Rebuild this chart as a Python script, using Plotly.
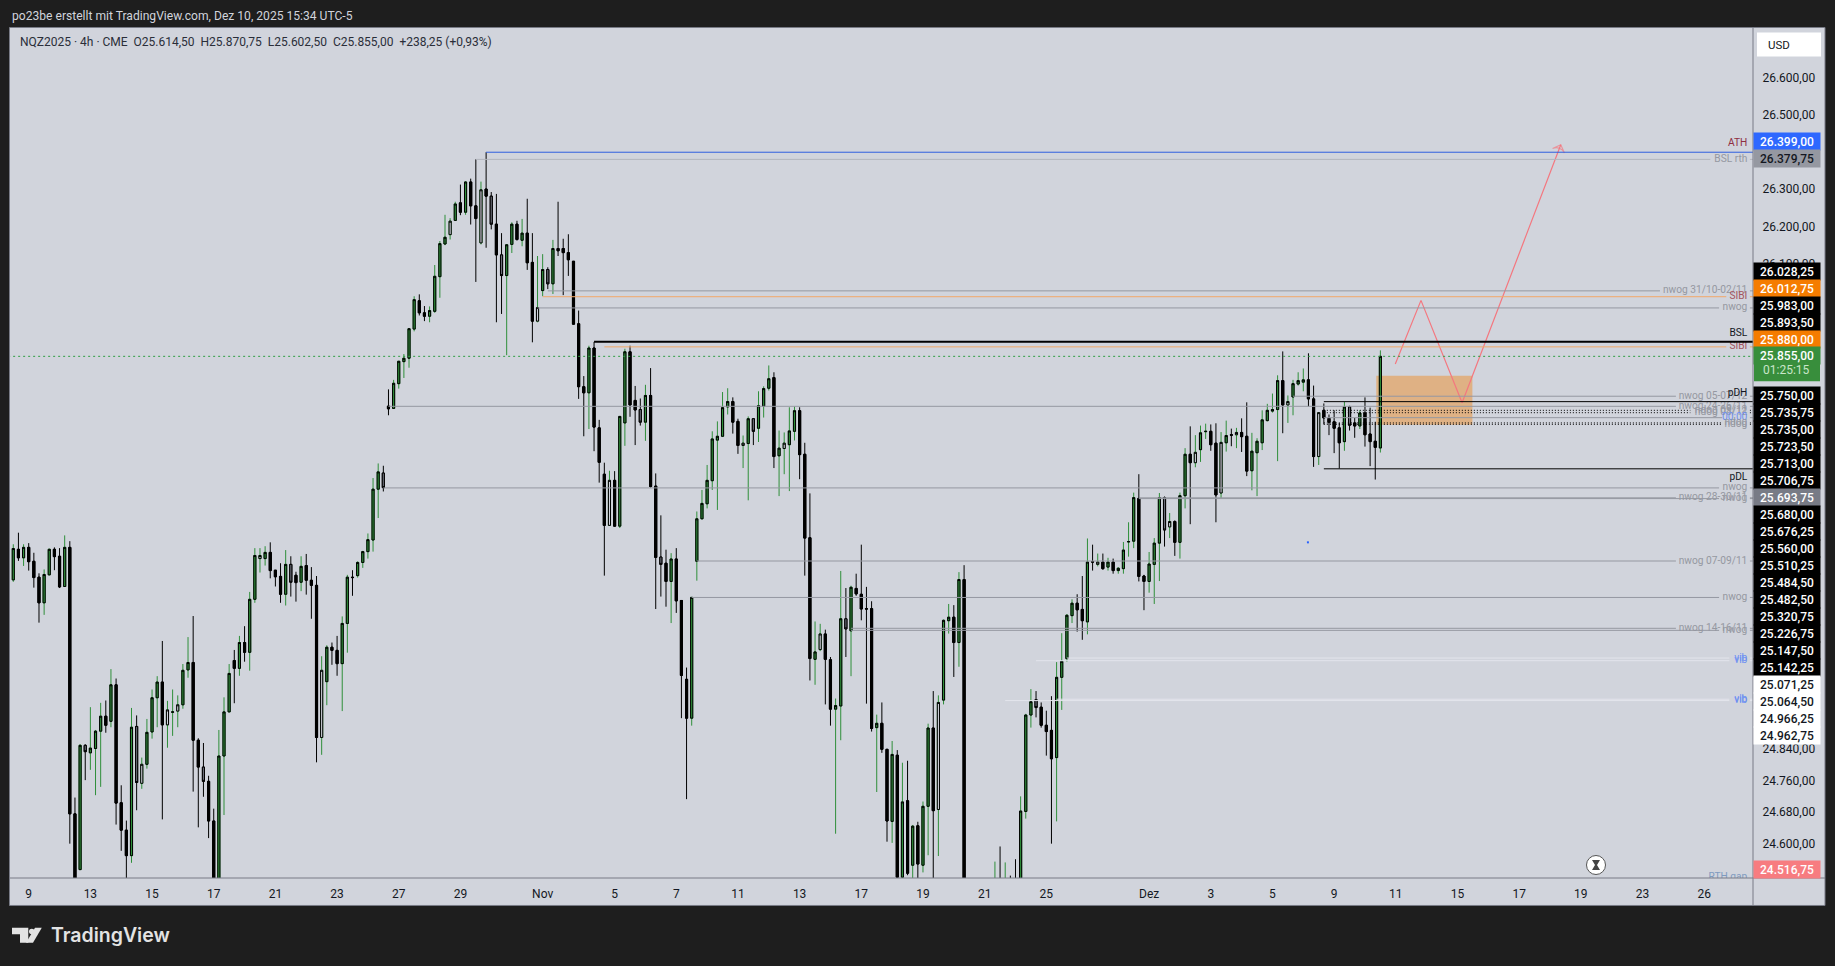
import math
import plotly.graph_objects as go

N = None
opens = [
25272,25351,25329,25356,25320,25279,25213,25285,25351,25333,
25255,25356,24676,24536,24849,24830,24841,24885,24923,24910,
25003,24704,24635,24571,24897,24753,24801,24883,24970,25010,
24901,24933,24936,24952,25041,25060,24862,24794,24758,24658,
24470,24822,24934,25065,25045,25111,25086,25222,25327,25327,
25343,25297,25281,25235,25312,25284,25266,25309,25271,25258,
24869,25011,25099,25091,25057,25160,25279,25283,25317,25345,
25375,25507,25549,25724,25718,25783,25841,25850,25927,26002,
25970,25961,25974,26066,26153,26178,26216,26263,26238,26319,
26255,26156,26300,26281,26206,26124,26069,26152,26206,26163,
26182,26104,25948,26029,26085,26047,26141,26141,26130,26107,
25941,25775,25759,25877,25667,25546,25413,25530,25411,25680,
25867,25739,25715,25682,25752,25515,25331,25315,25268,25326,
25219,25017,24918,25320,25430,25469,25529,25635,25645,25722,
25736,25684,25621,25626,25691,25666,25724,25771,25799,25594,
25613,25623,25658,25712,25598,25381,25068,25093,25133,25067,
24941,24949,25172,25141,25250,25235,25198,25198,24894,24905,
24839,24657,24824,24517,24709,24547,24646,24547,24695,24893,
24687,24964,25167,25176,25111,25273,N,N,N,N,
N,24400,24480,24420,24490,24500,24440,24682,24926,24965,
24946,24900,24887,24818,25022,25070,25180,25212,25196,25164,
25319,25312,25318,25305,25318,25296,25301,25370,25372,25483,
25282,25268,25312,25367,25485,25409,25423,25369,25490,25598,
25576,25610,25657,25658,25627,25497,25628,25649,25649,25655,
25645,25555,25602,25628,25686,25711,25715,25791,25727,25748,
25782,25787,25793,25743,25592,25713,25692,25683,25667,25631,
25722,25680,25672,25706,25651,25632,25614.5]
highs = [
25364,25394,25364,25367,25342,25289,25299,25353,25356,25354,
25387,25372,24717,24852,24852,24946,24888,24957,24963,25043,
25019,24748,24659,24944,24925,24818,24916,24991,25025,25115,
24962,24991,24976,25056,25125,25179,24867,24855,24772,24689,
24888,24971,25056,25092,25128,25153,25241,25354,25354,25359,
25369,25297,25315,25349,25333,25293,25333,25339,25305,25282,
25076,25104,25111,25128,25178,25285,25297,25320,25347,25392,
25536,25574,25568,25768,25793,25842,25861,25928,26014,26019,
25988,25987,26097,26161,26231,26222,26266,26312,26321,26328,
26380,26320,26399,26292,26287,26182,26152,26211,26215,26220,
26274,26182,26121,26126,26091,26164,26266,26167,26179,26107,
25976,25803,25883,25893,25688,25576,25555,25554,25697,25875,
25883,25777,25744,25780,25824,25548,25439,25350,25341,25354,
25220,25047,25227,25449,25505,25570,25658,25684,25761,25771,
25747,25691,25647,25697,25691,25763,25776,25831,25813,25660,
25655,25721,25723,25721,25628,25496,25165,25159,25144,25074,
24968,25295,25251,25257,25288,25363,25254,25217,24927,24958,
24839,24860,24837,24805,24810,24648,24656,24707,24904,24987,
24976,25170,25210,25207,25292,25310,N,N,N,N,
N,24556,24594,24554,24521,24562,24720,24929,24992,24987,
24958,24937,24974,25061,25135,25184,25222,25235,25282,25379,
25363,25340,25340,25329,25327,25305,25370,25421,25498,25546,
25285,25344,25380,25497,25488,25445,25426,25498,25614,25671,
25648,25673,25678,25676,25679,25656,25686,25665,25667,25692,
25734,25654,25640,25713,25730,25757,25805,25868,25752,25793,
25813,25823,25863,25778,25707,25731,25702,25713,25680,25735,
25725,25693,25713,25747,25720,25683,25870.75]
lows = [
25267,25321,25308,25296,25252,25162,25182,25284,25297,25251,
25254,24601,24400,24535,24761,24787,24723,24744,24881,24895,
24649,24583,24500,24553,24685,24739,24790,24866,24895,24662,
24843,24873,24895,24942,25021,24732,24642,24719,24615,24440,
24430,24673,24933,24956,25026,25062,25039,25213,25291,25309,
25276,25255,25213,25206,25229,25216,25243,25234,25172,24806,
24825,24951,25054,25026,24936,25085,25231,25278,25303,25327,
25345,25432,25501,25700,25717,25770,25798,25825,25921,25963,
25948,25945,25970,26010,26150,26165,26215,26230,26231,26205,
26052,26152,26143,26192,25945,25967,25858,26129,26162,26147,
26084,25892,25945,26014,26033,26020,26121,26017,26068,25939,
25743,25645,25664,25606,25524,25283,25412,25410,25406,25620,
25696,25622,25673,25633,25511,25197,25229,25203,25161,25187,
24918,24713,24899,25270,25429,25457,25505,25453,25643,25702,
25652,25599,25562,25478,25622,25630,25694,25765,25562,25489,
25546,25502,25634,25533,25283,25014,25003,25089,24953,24899,
24626,24862,25074,25025,25231,25168,24955,24884,24731,24830,
24606,24603,24490,24515,24522,24500,24500,24529,24572,24500,
24570,24953,25134,25023,25049,24380,N,N,N,N,
N,24380,24400,24400,24420,24430,24420,24664,24894,24920,
24894,24823,24601,24657,24939,25062,25161,25139,25118,25132,
25296,25307,25298,25296,25288,25288,25288,25332,25354,25268,
25194,25239,25210,25269,25358,25380,25334,25327,25457,25416,
25564,25578,25638,25607,25421,25484,25605,25619,25614,25604,
25541,25504,25489,25609,25684,25707,25580,25653,25680,25700,
25778,25763,25723,25565,25570,25676,25648,25601,25561,25607,
25660,25641,25664,25618,25567,25532,25602.5]
closes = [
25353,25329,25356,25319,25278,25213,25286,25351,25332,25254,
25356,24676,24450,24849,24833,24842,24885,24923,24900,25003,
24703,24635,24571,24895,24755,24801,24882,24970,25010,24901,
24939,24934,24952,25040,25060,24862,24794,24758,24658,24480,
24822,24934,25032,25045,25111,25086,25222,25335,25335,25343,
25296,25280,25235,25312,25266,25265,25307,25271,25258,24869,
25040,25099,25091,25057,25160,25279,25278,25317,25345,25376,
25507,25552,25511,25717,25784,25842,25850,25928,26005,25970,
25961,25976,26067,26154,26171,26214,26260,26238,26319,26255,
26221,26298,26281,26206,26124,26069,26151,26206,26165,26182,
26103,25948,25984,26085,26047,26141,26135,26130,26111,25940,
25775,25759,25877,25669,25577,25413,25530,25411,25697,25867,
25727,25714,25682,25752,25514,25330,25312,25268,25326,25218,
25027,24918,25227,25430,25470,25530,25638,25645,25720,25736,
25682,25621,25627,25691,25658,25725,25770,25796,25592,25614,
25627,25659,25712,25597,25380,25070,25087,25133,25068,24941,
24950,25172,25146,25253,25236,25197,25197,24892,24905,24839,
24658,24826,24517,24706,24527,24645,24550,24695,24893,24684,
24958,25168,25176,25111,25273,24400,N,N,N,N,
N,24480,24420,24490,24440,24450,24683,24926,24960,24945,
24900,24884,24815,25022,25063,25181,25212,25195,25167,25318,
25318,25318,25301,25318,25296,25302,25349,25371,25485,25281,
25268,25313,25367,25485,25401,25423,25369,25490,25598,25576,
25603,25654,25658,25623,25492,25629,25647,25648,25655,25644,
25554,25606,25632,25688,25713,25715,25791,25727,25736,25783,
25791,25793,25743,25592,25707,25693,25682,25666,25628,25722,
25674,25672,25706,25649,25631,25616,25855]
# G green up, K black down, W hollow, Y grey, . not on screen
bar_types = ("GKGKKKGGKK" "GKKGYGGGKG" "KKKGYWGGGK" "WGWGGKKYKK" "GGGKGKGGWG"
             "KKKGYKGKKK" "WGKKGGKGGG" "GGYKGGGGGK" "KGGGGWGKGK" "KWKYKYGGKG"
             "KKWGYGKKKK" "KKGKKKWKGG" "KKYGKKYKGK" "KKGGGGGGGG" "KKWGYGGGKG"
             "WGGKKKGWKK" "GGYGKKKKGK" "KGKGKGKGGK" "WGGKGK...." ".GKGKKGGGY"
             "KKKGGGGKKG" "KWKGKGGGGK" "KGGGYWKGGK" "WGGKKWGKWK" "KGGGGGGKWG"
             "GGKKWKKKKG" "YKGKKKG")
assert len(opens) == len(highs) == len(lows) == len(closes) == len(bar_types) == 267

tick_bars = [3,15,27,39,51,63,75,87,103,117,129,141,153,165,177,189,201,221,233,245,257,269,281,293,305,317,329]
tick_labels = ["9","13","15","17","21","23","27","29","Nov","5","7","11","13","17","19","21","25","Dez","3","5","9","11","15","17","19","23","26"]
price_ticks = [26600,26500,26300,26200,26100,24840,24760,24680,24600]
price_tick_labels = ["26.600,00","26.500,00","26.300,00","26.200,00","26.100,00","24.840,00","24.760,00","24.680,00","24.600,00"]

level_prices = [26399,26379.75,26028.25,26012.75,25983,25893.5,25880,25855,25750,25735.75,25723.5,25713,25706.75,25693.75,25680,25676.25,25560,25510.25,25484.5,25482.5,25320.75,25226.75,25147.5,25142.25,25071.25,25064.5,24966.25,24962.75]
level_start_bars = [92,90,104,103,102,113,115,-1,249,255,73,255,255,255,255,255,255,72,219,219,133,132,163,163,205,199,203,193]
level_end_bars = [338.5,330.2,320.4,333.3,331.9,338.5,333.3,338.5,323.5,338.5,323.5,326.3,326.3,332.5,332.5,332.5,338.5,331.9,323.5,331.9,323.5,331.9,323.5,331.9,333.9,333.9,333.9,333.9]
level_kinds = ["ath","soft","grey","sibi","grey","bsl","sibi","last","grey","pd","grey","dots","dots","grey","dots","dots","pd","grey","grey","grey","grey","grey","grey","grey","vib","vib","vib","vib"]

label_texts = ["ATH","BSL rth","nwog 31/10-02/11","SIBI","nwog","BSL","SIBI","nwog 05-07/12","pDH","nwog 24-26/11","ndog 09/12","ndog 08/12","00:00","ndog","ndog","pDL","nwog","nwog 28-30/11","nwog","nwog 07-09/11","nwog","nwog 14-16/11","nwog","vib","vib","vib","vib","RTH gap"]
label_prices = [26399,26379.75,26028.25,26012.75,25983,25893.5,25880,25750,25735.75,25723.5,25713,25706.75,25693.75,25680,25676.25,25560,25510.25,25484.5,25482.5,25320.75,25226.75,25147.5,25142.25,25071.25,25064.5,24966.25,24962.75,24516.75]
label_kinds = ["ath","grey","grey","sibi","grey","black_top","sibi","grey","black_top","grey","grey","grey","blue","grey","grey","black_bot","grey","grey","grey","grey","grey","grey","grey","blue","blue","blue","blue","rth"]

upper_tags = ["26.399,00","26.379,75"]
stack_a = ["26.028,25","26.012,75","25.983,00","25.893,50","25.880,00"]
stack_b = ["25.750,00","25.735,75","25.735,00","25.723,50","25.713,00","25.706,75","25.693,75","25.680,00","25.676,25","25.560,00","25.510,25","25.484,50","25.482,50","25.320,75","25.226,75","25.147,50","25.142,25","25.071,25","25.064,50","24.966,25","24.962,75"]
stack_a_kinds = ["k","o","k","k","o"]
stack_b_kinds = ["k"]*6 + ["g"] + ["k"]*10 + ["w"]*4

zone_bars = [265.2, 283.9]
zone_prices = [25804, 25675]
plan_bars = [268.9, 273.9, 281.9, 301.1]
plan_prices = [25835, 26003, 25733, 26419]
dot_bar, dot_price = 251.9, 25369

header_text = "po23be erstellt mit TradingView.com, Dez 10, 2025 15:34 UTC-5"
legend_text = "NQZ2025 · 4h · CME\u00a0\u00a0O25.614,50\u00a0\u00a0H25.870,75\u00a0\u00a0L25.602,50\u00a0\u00a0C25.855,00\u00a0\u00a0+238,25 (+0,93%)"

# ---- page geometry helpers (for the frame, not the data)
W, H = 1835, 966
L, R, T, B = 10, 1753, 27.5, 878
PRICE_TOP, PRICE_BOTTOM = 26735.7, 24515
X_RANGE = [-0.64, 338.5]
PX_PER_LOG = (B - T) / math.log(PRICE_TOP / PRICE_BOTTOM)
def px(x): return (x - L) / (R - L)
def py(y): return (B - y) / (B - T)

BG = "#d1d4dc"; DARK = "#1e1e1e"; EDGE = "#787b86"; INK = "#131722"
FONT = "Roboto"
GREEN = "#2f8f3a"

fig = go.Figure()
bars = list(range(len(opens)))
vis = [i for i in bars if bar_types[i] != "."]

# wicks
fig.add_trace(go.Candlestick(
    x=vis, open=[opens[i] for i in vis], high=[highs[i] for i in vis],
    low=[lows[i] for i in vis], close=[closes[i] for i in vis],
    increasing=dict(line=dict(color=GREEN, width=1), fillcolor=GREEN),
    decreasing=dict(line=dict(color="#000000", width=1), fillcolor="#000000"),
    whiskerwidth=0, hoverinfo="skip", showlegend=False))
# bodies
for kind, fill in [("G", GREEN), ("K", "#000000"), ("W", BG), ("Y", "#6b6d78")]:
    idx = [i for i in bars if bar_types[i] == kind]
    tops = [max(opens[i], closes[i]) for i in idx]
    bots = [min(opens[i], closes[i]) for i in idx]
    up = dict(line=dict(color="#000000", width=1), fillcolor=fill)
    fig.add_trace(go.Candlestick(
        x=idx, open=[opens[i] for i in idx], close=[closes[i] for i in idx], high=tops, low=bots,
        increasing=up, decreasing=up, whiskerwidth=0, hoverinfo="skip", showlegend=False))

# planned path
fig.add_trace(go.Scatter(
    x=plan_bars, y=plan_prices, mode="lines", line=dict(color="#f4777f", width=1.2),
    hoverinfo="skip", showlegend=False))
fig.add_trace(go.Scatter(
    x=plan_bars[-2:], y=plan_prices[-2:], mode="markers",
    marker=dict(symbol="arrow-wide-open", size=[0, 9], angleref="previous",
                color="#f4777f", line=dict(color="#f4777f", width=1.2)),
    hoverinfo="skip", showlegend=False))
fig.add_trace(go.Scatter(x=[dot_bar], y=[dot_price], mode="markers",
    marker=dict(symbol="square", size=2, color="#2962ff"), hoverinfo="skip", showlegend=False))

# level labels: colour and vertical nudge in screen pixels relative to the level
LABEL_STYLE = {
    "ath": ("#8f2f42", 8.7), "grey": ("#9598a1", 0),
    "sibi": ("#a4545f", 0), "black_top": ("#131722", 8.5),
    "black_bot": ("#131722", -8.5), "blue": ("#6d8ff2", 0),
    "rth": ("#7f9bc0", 0)}
fig.add_trace(go.Scatter(
    x=[337.4] * len(label_texts),
    y=[p * math.exp(LABEL_STYLE[k][1] / PX_PER_LOG) for p, k in zip(label_prices, label_kinds)],
    text=label_texts, mode="text", textposition="middle left",
    textfont=dict(family=FONT, size=10.2, color=[LABEL_STYLE[k][0] for k in label_kinds]),
    cliponaxis=True, hoverinfo="skip", showlegend=False))

shapes = []
# frame
shapes.append(dict(type="rect", xref="paper", yref="paper", x0=px(9.5), x1=px(1825), y0=py(905.5), y1=py(27),
                   line=dict(color=EDGE, width=1), fillcolor=BG, layer="below"))
# zone
shapes.append(dict(type="rect", xref="x", yref="y", x0=zone_bars[0], x1=zone_bars[1], y0=zone_prices[0], y1=zone_prices[1],
                   line=dict(width=0), fillcolor="rgba(245,124,0,0.4)", layer="below"))
LEVEL_STYLE = {
    "ath": dict(color="#2f5fe0", width=1), "soft": dict(color="#b2b5be", width=1),
    "grey": dict(color="#9598a1", width=1), "sibi": dict(color="#f2a96a", width=1),
    "bsl": dict(color="#000000", width=2), "last": dict(color="#2f9e44", width=1, dash="2px,3px"),
    "pd": dict(color="#000000", width=1), "dots": dict(color="#000000", width=1, dash="1px,2px"),
    "vib": dict(color="#e3e5ec", width=1)}
for p, s, e, k in zip(level_prices, level_start_bars, level_end_bars, level_kinds):
    shapes.append(dict(type="line", xref="x", yref="y", x0=s, x1=e, y0=p, y1=p, line=LEVEL_STYLE[k], layer="above"))
    if e < 338:
        shapes.append(dict(type="line", xref="x", yref="y", x0=337.9, x1=338.5, y0=p, y1=p, line=LEVEL_STYLE[k], layer="above"))
# separators
shapes.append(dict(type="line", xref="paper", yref="paper", x0=px(R), x1=px(R), y0=py(905), y1=py(27), line=dict(color=EDGE, width=1), layer="above"))
shapes.append(dict(type="line", xref="paper", yref="paper", x0=px(9.5), x1=px(1825), y0=py(B), y1=py(B), line=dict(color=EDGE, width=1), layer="above"))

def rect(x0, y0, x1, y1, fill):
    return dict(type="rect", xref="paper", yref="paper", x0=px(x0), x1=px(x1), y0=py(y0), y1=py(y1),
                line=dict(width=0), fillcolor=fill, layer="above")

# USD button
shapes.append(rect(1757, 32, 1821, 56, "#ffffff"))
# countdown box under the last price
shapes.append(rect(1754, 347, 1820, 381, "#388e3c"))

# hourglass badge
def path_shape(points, fill, line=None):
    d = "M" + " L".join(f"{px(x):.6f},{py(y):.6f}" for x, y in points) + " Z"
    return dict(type="path", xref="paper", yref="paper", path=d, fillcolor=fill, line=line or dict(width=0), layer="above")
shapes.append(dict(type="circle", xref="paper", yref="paper", x0=px(1586.5), x1=px(1605.5), y0=py(874.5), y1=py(855.5),
                   fillcolor="#ffffff", line=dict(color="#555555", width=1), layer="above"))
shapes.append(path_shape([(1592, 860), (1600, 860), (1597, 865), (1600, 870), (1592, 870), (1595, 865)], "#444444"))

# logo
LOGO = "#e3e3e3"
shapes.append(path_shape([(12, 927.8), (28.3, 927.8), (28.3, 942.8), (20, 942.8), (20, 934.4), (12, 934.4)], LOGO))
shapes.append(path_shape([(35, 927.8), (41.8, 927.8), (33, 942.8), (26, 942.8)], LOGO))
shapes.append(dict(type="circle", xref="paper", yref="paper", x0=px(29), x1=px(34.6), y0=py(934.4), y1=py(928.8),
                   fillcolor=LOGO, line=dict(width=0), layer="above"))

annotations = []
def text(x, y, s, size=12, color=INK, anchor="left", family=FONT, **kw):
    annotations.append(dict(xref="paper", yref="paper", x=px(x), y=py(y), text=s, showarrow=False,
                            xanchor=anchor, yanchor="middle", font=dict(family=family, size=size, color=color), **kw))
def tag(yc, s, fill, color="#ffffff"):
    annotations.append(dict(xref="paper", yref="paper", x=px(1787), y=py(yc), text=s, showarrow=False,
                            xanchor="center", yanchor="middle", width=66, height=17, bgcolor=fill, borderpad=0,
                            align="center", valign="middle", font=dict(family=FONT, size=12, color=color, weight=500)))

text(9.5, 15, header_text, size=12.1, color="#d1d4dc")
text(18, 41.5, legend_text, size=12, color="#2a2e39")
text(1766, 44.5, "USD", size=11.5, color=INK)
text(49, 935, "TradingView", size=19.5, color=LOGO, family="Inter")
annotations[-1]["font"]["weight"] = 600

TAG_FILL = {"k": ("#000000", "#ffffff"), "o": ("#f57c00", "#ffffff"), "g": ("#787b86", "#ffffff"), "w": ("#ffffff", INK)}
tag(141, upper_tags[0], "#2e68ff")
tag(158, upper_tags[1], "#9598a1", INK)
for k, (s, kd) in enumerate(zip(stack_a, stack_a_kinds)):
    tag(270.7 + 17 * k, s, *TAG_FILL[kd])
tag(355.3, "25.855,00", "#388e3c")
text(1787, 369.5, "01:25:15", size=12, color="#c8e6c9", anchor="center")
for k, (s, kd) in enumerate(zip(stack_b, stack_b_kinds)):
    tag(395.7 + 17 * k, s, *TAG_FILL[kd])
tag(869.7, "24.516,75", "#f77c80")

fig.update_layout(
    width=W, height=H, autosize=False,
    margin=dict(l=L, r=W - R, t=T, b=H - B, pad=0),
    paper_bgcolor=DARK, plot_bgcolor=BG, showlegend=False, boxgap=0.41,
    xaxis=dict(type="linear", range=X_RANGE, rangeslider=dict(visible=False), showgrid=False, zeroline=False, showline=False,
               tickmode="array", tickvals=tick_bars, ticktext=tick_labels, ticks="outside", ticklen=5,
               tickcolor="rgba(0,0,0,0)", tickfont=dict(family=FONT, size=12, color=INK)),
    yaxis=dict(type="log", side="right", range=[math.log10(PRICE_BOTTOM), math.log10(PRICE_TOP)], showgrid=False, zeroline=False,
               showline=False, tickmode="array", tickvals=price_ticks, ticktext=price_tick_labels, ticks="outside", ticklen=6,
               tickcolor="rgba(0,0,0,0)", tickfont=dict(family=FONT, size=12, color=INK)),
    shapes=shapes, annotations=annotations)

fig.write_html("out.html", config={"displayModeBar": False},
               post_script="document.body.style.margin='0';document.body.style.overflow='hidden';")
